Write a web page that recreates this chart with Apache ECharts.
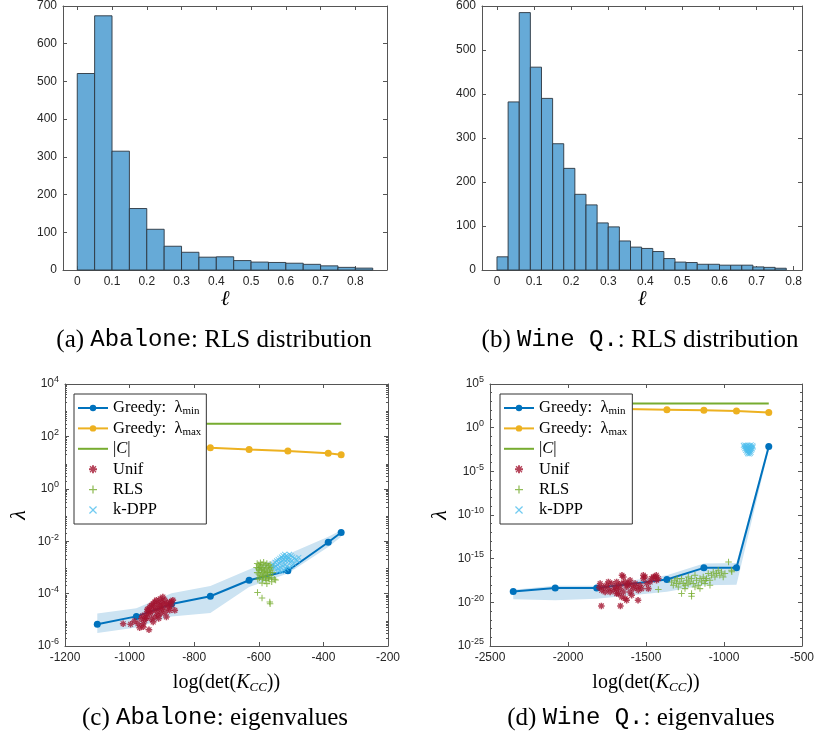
<!DOCTYPE html>
<html><head><meta charset="utf-8">
<script src="https://cdn.jsdelivr.net/npm/echarts@6/dist/echarts.min.js"></script>
<style>html,body{margin:0;padding:0;background:#fff}#c{width:816px;height:736px}</style>
</head><body><div id="c"></div>
<script>
// ===================== DATA =====================
// (a) Abalone: RLS histogram
const binEdgesA = [0,0.05,0.1,0.15,0.2,0.25,0.3,0.35,0.4,0.45,0.5,0.55,0.6,0.65,0.7,0.75,0.8,0.85];
const countsA = [521,674,315,163,108,63,47,34,35,25,21,20,18,15,11,7,5];
// (b) Wine Q.: RLS histogram
const binEdgesB = [0,0.03,0.06,0.09,0.12,0.15,0.18,0.21,0.24,0.27,0.3,0.33,0.36,0.39,0.42,0.45,0.48,0.51,0.54,0.57,0.6,0.63,0.66,0.69,0.72,0.75,0.78];
const countsB = [30,382,585,461,390,287,231,172,148,107,98,66,52,49,42,26,18,17,13,13,11,11,11,7,6,4];
const histTicks = [0,0.1,0.2,0.3,0.4,0.5,0.6,0.7,0.8];

// (c) Abalone eigenvalues  (x = log(det(K_CC)), y = log10(lambda))
const greedyXC = [-1100,-979,-870,-750,-630,-510,-385,-345];
const lamMinC  = [-5.17,-4.87,-4.40,-4.10,-3.49,-3.13,-2.04,-1.67];
const lamMaxC  = [1.85,1.76,1.66,1.57,1.50,1.44,1.36,1.30];
const sizeC_C  = [2.48,2.48,2.48,2.48,2.48,2.48,2.48,2.48];
const bandLowC = [-5.50,-5.29,-4.87,-4.74,-3.75,-3.23,-2.22,-1.83];
const bandHighC= [-4.76,-4.56,-3.99,-3.71,-3.08,-2.50,-1.83,-1.58];
const unifC = [[-1020,-5.15],[-997,-5.17],[-974,-5.15],[-964,-4.96],[-958,-5.15],[-969,-5.30],[-953,-5.02],[-948,-4.76],[-943,-4.64],[-938,-4.51],[-933,-4.45],[-927,-4.38],[-922,-4.32],[-917,-4.25],[-912,-4.38],[-907,-4.45],[-902,-4.32],[-897,-4.13],[-891,-4.25],[-886,-4.38],[-881,-4.45],[-876,-4.32],[-871,-4.45],[-860,-4.64],[-876,-4.64],[-886,-4.89],[-902,-4.76],[-912,-4.83],[-922,-4.89],[-933,-4.96],[-927,-5.08],[-940,-5.38],[-958,-5.27],[-897,-4.51],[-907,-4.57],[-917,-4.57],[-927,-4.64],[-938,-4.76],[-948,-4.89],[-866,-4.25],[-900,-4.60],[-915,-4.70],[-895,-4.40],[-925,-4.50],[-905,-4.20],[-880,-4.55],[-935,-4.70],[-945,-4.60],[-890,-4.70],[-870,-4.30],[-960,-4.85],[-985,-5.05],[-910,-4.95],[-950,-4.95]];
const rlsC = [[-605,-2.85],[-600,-2.90],[-595,-2.82],[-590,-2.88],[-585,-2.80],[-580,-2.92],[-575,-2.85],[-570,-2.95],[-565,-2.90],[-560,-3.00],[-555,-2.95],[-607,-3.00],[-602,-3.05],[-597,-3.00],[-592,-3.10],[-587,-3.05],[-582,-3.10],[-577,-3.00],[-572,-3.15],[-567,-3.05],[-562,-3.10],[-557,-3.20],[-605,-3.20],[-600,-3.25],[-595,-3.30],[-590,-3.20],[-585,-3.35],[-580,-3.25],[-575,-3.30],[-570,-3.40],[-565,-3.30],[-560,-3.40],[-552,-3.45],[-603,-3.45],[-598,-3.40],[-588,-3.45],[-578,-3.50],[-568,-3.45],[-548,-3.48],[-594,-2.95],[-584,-3.15],[-574,-3.20],[-564,-3.20],[-599,-3.10],[-589,-3.35],[-579,-3.40],[-590,-3.60],[-575,-3.62],[-560,-3.55],[-604,-3.96],[-590,-4.17],[-566,-4.32],[-565,-4.39]];
const kdppC = [[-555,-2.90],[-550,-2.80],[-545,-2.75],[-540,-2.70],[-535,-2.65],[-530,-2.60],[-525,-2.55],[-520,-2.50],[-515,-2.55],[-510,-2.60],[-505,-2.50],[-500,-2.55],[-495,-2.60],[-490,-2.65],[-485,-2.70],[-480,-2.75],[-552,-3.00],[-547,-2.95],[-542,-2.90],[-537,-2.85],[-532,-2.80],[-527,-2.75],[-522,-2.70],[-517,-2.75],[-512,-2.70],[-507,-2.75],[-502,-2.80],[-497,-2.75],[-492,-2.85],[-548,-3.10],[-540,-3.05],[-533,-3.00],[-526,-2.95],[-519,-2.90],[-512,-2.95],[-505,-3.00],[-498,-2.95],[-538,-3.15],[-530,-3.15],[-522,-3.10],[-515,-3.05],[-528,-2.65],[-518,-2.60],[-508,-2.65],[-476,-2.62]];

// (d) Wine Q. eigenvalues
const greedyXD = [-2351,-2082,-1816,-1366,-1129,-920,-713];
const lamMinD  = [-18.77,-18.35,-18.35,-17.39,-16.05,-16.05,-2.15];
const lamMaxD  = [2.40,2.30,2.20,2.06,1.98,1.90,1.75];
const sizeC_D  = [2.78,2.78,2.78,2.78,2.78,2.78,2.78];
const bandLowD = [-19.65,-19.75,-19.60,-18.80,-18.05,-18.00,-2.50];
const bandHighD= [-18.55,-18.10,-18.10,-16.90,-15.56,-15.50,-1.90];
const unifD = [[-1794,-17.85],[-1784,-18.62],[-1773,-18.24],[-1762,-18.81],[-1752,-18.05],[-1741,-18.43],[-1730,-18.81],[-1720,-17.85],[-1709,-18.62],[-1698,-18.24],[-1688,-17.66],[-1677,-18.05],[-1666,-18.43],[-1656,-17.85],[-1645,-17.09],[-1634,-17.66],[-1624,-18.24],[-1613,-17.85],[-1602,-17.47],[-1592,-18.05],[-1581,-18.43],[-1570,-17.85],[-1560,-18.24],[-1549,-18.62],[-1538,-18.05],[-1528,-18.43],[-1517,-17.28],[-1506,-17.09],[-1496,-17.85],[-1485,-18.43],[-1474,-17.66],[-1464,-17.28],[-1442,-17.09],[-1432,-17.47],[-1421,-17.28],[-1677,-19.00],[-1656,-19.38],[-1634,-19.57],[-1624,-19.76],[-1592,-19.19],[-1551,-19.76],[-1786,-20.41],[-1664,-20.41],[-1688,-19.00],[-1602,-18.81],[-1645,-18.81],[-1741,-17.66],[-1517,-16.90],[-1453,-17.09],[-1654,-16.90],[-1434,-16.90],[-1800,-18.30],[-1690,-18.50],[-1620,-18.00]];
const rlsD = [[-1421,-18.54],[-1336,-17.66],[-1325,-18.05],[-1315,-17.47],[-1304,-17.85],[-1293,-18.24],[-1283,-17.66],[-1272,-17.28],[-1261,-17.85],[-1250,-18.05],[-1240,-17.47],[-1229,-17.09],[-1218,-17.66],[-1208,-17.28],[-1197,-17.85],[-1186,-16.90],[-1176,-17.47],[-1165,-18.05],[-1154,-17.28],[-1144,-17.66],[-1133,-17.09],[-1122,-17.85],[-1112,-17.28],[-1101,-16.71],[-1090,-17.47],[-1080,-16.90],[-1069,-16.52],[-1058,-17.09],[-1048,-16.71],[-1037,-16.33],[-1027,-16.90],[-1016,-16.52],[-1005,-17.09],[-994,-16.71],[-952,-16.33],[-1272,-19.00],[-1208,-19.00],[-1208,-19.31],[-1250,-18.43],[-1154,-18.43],[-1090,-18.05],[-1186,-18.24],[-971,-15.37],[-950,-16.50],[-1300,-17.30],[-1230,-17.90],[-1120,-17.50]];
const kdppD = [[-876,-2.02],[-866,-1.98],[-857,-2.05],[-846,-2.00],[-836,-2.03],[-826,-1.97],[-815,-2.04],[-872,-2.22],[-861,-2.18],[-851,-2.25],[-842,-2.20],[-831,-2.15],[-821,-2.24],[-812,-2.20],[-867,-2.42],[-857,-2.38],[-848,-2.45],[-838,-2.40],[-828,-2.36],[-818,-2.43],[-861,-2.60],[-852,-2.64],[-843,-2.58],[-833,-2.62],[-823,-2.60],[-855,-2.80],[-845,-2.84],[-836,-2.78],[-826,-2.82],[-848,-2.98],[-839,-3.02],[-831,-2.96]];

const legendNames = ['Greedy: λmin','Greedy: λmax','|C|','Unif','RLS','k-DPP'];
const captions = ['(a) {tt|Abalone}: RLS distribution','(b) {tt|Wine Q.}: RLS distribution','(c) {tt|Abalone}: eigenvalues','(d) {tt|Wine Q.}: eigenvalues'];

// ===================== STYLE =====================
const SANS = "'Liberation Sans', Arial, sans-serif";
const SERIF = "'Liberation Serif', 'DejaVu Serif', serif";
const MONO = "'Liberation Mono', 'DejaVu Sans Mono', monospace";
const AX = '#555', TXT = '#262626';
const C_BLUE = '#0072BD', C_ORANGE = '#EDB120', C_GREEN = '#77AC30', C_RED = '#A2142F', C_CYAN = '#4DBEEE';
const BAR_FILL = '#66AAD7', BAR_EDGE = '#2b3540', BAND = '#CCE3F2';
const ASTERISK = 'path://M3.8,0H6.2V2.6L8.1,0.7L9.3,1.9L7.4,3.8H10V6.2H7.4L9.3,8.1L8.1,9.3L6.2,7.4V10H3.8V7.4L1.9,9.3L0.7,8.1L2.6,6.2H0V3.8H2.6L0.7,1.9L1.9,0.7L3.8,2.6Z';
const PLUS = 'path://M4.2,0H5.8V4.2H10V5.8H5.8V10H4.2V5.8H0V4.2H4.2Z';
const CROSS = 'path://M1.1,0L5,3.9L8.9,0L10,1.1L6.1,5L10,8.9L8.9,10L5,6.1L1.1,10L0,8.9L3.9,5L0,1.1Z';

const grids = [
  {left:63, top:6, width:324, height:264},
  {left:482, top:6, width:320, height:264},
  {left:65, top:384, width:323, height:262},
  {left:490, top:384, width:312, height:262}
].map(g => Object.assign({outerBoundsMode:'none', containLabel:false}, g));

const xAxes = [], yAxes = [];
const plainFmt = v => String(+v.toFixed(6));
function baseAxis(gi, min, max, pos, labels) {
  return {gridIndex:gi, type:'value', min, max, position:pos,
    axisLine:{show:true, onZero:false, lineStyle:{color:AX, width:1}},
    axisTick:{show:true, inside:true, length:4, lineStyle:{color:AX, width:1}},
    axisLabel:{show:labels, color:TXT, fontSize:12, fontFamily:SANS, margin:6, formatter:plainFmt},
    splitLine:{show:false}};
}
function addX(gi, min, max, opt, labels) {
  const a = baseAxis(gi, min, max, labels ? 'bottom' : 'top', labels);
  if (opt.interval) a.interval = opt.interval;
  if (opt.custom) { a.axisTick.customValues = opt.custom; a.axisLabel.customValues = opt.custom; }
  if (labels && opt.name) Object.assign(a, {name:opt.name, nameLocation:'middle', nameGap:opt.nameGap, nameTextStyle:opt.nameStyle});
  xAxes.push(a); return xAxes.length - 1;
}
function addY(gi, min, max, opt, labels) {
  const a = baseAxis(gi, min, max, labels ? 'left' : 'right', labels);
  a.interval = opt.interval;
  if (opt.formatter) { a.axisLabel.formatter = opt.formatter; a.axisLabel.rich = opt.rich; }
  if (labels && opt.name) Object.assign(a, {name:opt.name, nameLocation:'middle', nameGap:opt.nameGap, nameTextStyle:opt.nameStyle});
  yAxes.push(a); return yAxes.length - 1;
}
function addMinorY(gi, min, max, vals, pos) {
  yAxes.push({gridIndex:gi, type:'value', min, max, position:pos,
    axisLine:{show:false}, axisLabel:{show:false}, splitLine:{show:false},
    axisTick:{show:true, inside:true, length:2, customValues:vals, lineStyle:{color:AX, width:1}}});
}

const ellName = {fontFamily:SERIF, fontStyle:'italic', fontSize:21, color:'#000'};
const lamName = {fontFamily:SERIF, fontStyle:'italic', fontSize:22, color:'#000'};
const detName = {fontFamily:SERIF, fontSize:20, color:'#000',
  rich:{i:{fontFamily:SERIF, fontStyle:'italic', fontSize:20, color:'#000'},
        sub:{fontFamily:SERIF, fontStyle:'italic', fontSize:13, color:'#000', padding:[9,0,0,0]}}};
const powFmt = v => '{b|10}{s|' + v + '}';
const powRich = {b:{fontSize:12, fontFamily:SANS, color:TXT}, s:{fontSize:9, fontFamily:SANS, color:TXT, padding:[0,0,8,0]}};

// grid 0 (a)
const xa = addX(0, -0.041, 0.891, {custom:histTicks, name:'ℓ', nameGap:19, nameStyle:ellName}, true);
addX(0, -0.041, 0.891, {custom:histTicks}, false);
const ya = addY(0, 0, 700, {interval:100}, true);
addY(0, 0, 700, {interval:100}, false);
// grid 1 (b)
const xb = addX(1, -0.0404, 0.8224, {custom:histTicks, name:'ℓ', nameGap:19, nameStyle:ellName}, true);
addX(1, -0.0404, 0.8224, {custom:histTicks}, false);
const yb = addY(1, 0, 600, {interval:100}, true);
addY(1, 0, 600, {interval:100}, false);
// grid 2 (c)
const xc = addX(2, -1200, -200, {interval:200, name:'log(det({i|K}{sub|CC}))', nameGap:26, nameStyle:detName}, true);
addX(2, -1200, -200, {interval:200}, false);
const yc = addY(2, -6, 4, {interval:2, formatter:powFmt, rich:powRich, name:'λ', nameGap:35, nameStyle:lamName}, true);
addY(2, -6, 4, {interval:2}, false);
const minorC = [];
for (let n = -6; n < 4; n++) for (let k = 2; k <= 9; k++) minorC.push(n + Math.log10(k));
addMinorY(2, -6, 4, minorC, 'left'); addMinorY(2, -6, 4, minorC, 'right');
// grid 3 (d)
const xd = addX(3, -2500, -500, {interval:500, name:'log(det({i|K}{sub|CC}))', nameGap:26, nameStyle:detName}, true);
addX(3, -2500, -500, {interval:500}, false);
const yd = addY(3, -25, 5, {interval:5, formatter:powFmt, rich:powRich, name:'λ', nameGap:39, nameStyle:lamName}, true);
addY(3, -25, 5, {interval:5}, false);
const minorD = [];
for (let n = -25; n <= 5; n++) if (n % 5 !== 0) minorD.push(n);
addMinorY(3, -25, 5, minorD, 'left'); addMinorY(3, -25, 5, minorD, 'right');

function histSeries(xi, yi, edges, counts) {
  return {type:'custom', xAxisIndex:xi, yAxisIndex:yi, silent:true,
    data: counts.map((c, i) => [edges[i], edges[i+1], c]),
    encode:{x:[0,1], y:2},
    renderItem(params, api) {
      const p0 = api.coord([api.value(0), api.value(2)]);
      const p1 = api.coord([api.value(1), 0]);
      return {type:'rect', shape:{x:p0[0], y:p0[1], width:p1[0]-p0[0], height:p1[1]-p0[1]},
        style:{fill:BAR_FILL, stroke:BAR_EDGE, lineWidth:0.9}};
    }};
}
const zip = (xs, ys) => xs.map((x, i) => [x, ys[i]]);
function eigenSeries(xi, yi, X, lmin, lmax, capC, lo, hi, unif, rls, kdpp) {
  return [
    {type:'custom', xAxisIndex:xi, yAxisIndex:yi, silent:true, z:1,
      data: X.map((x, i) => [x, lo[i], hi[i]]), encode:{x:0, y:[1,2]},
      renderItem(params, api) {
        if (params.dataIndex !== 0) return null;
        const pts = [];
        for (let i = 0; i < X.length; i++) pts.push(api.coord([X[i], hi[i]]));
        for (let i = X.length - 1; i >= 0; i--) pts.push(api.coord([X[i], lo[i]]));
        return {type:'polygon', shape:{points:pts}, style:{fill:BAND}};
      }},
    {name:legendNames[0], type:'line', xAxisIndex:xi, yAxisIndex:yi, data:zip(X, lmin), symbol:'circle', symbolSize:7,
      lineStyle:{color:C_BLUE, width:2}, itemStyle:{color:C_BLUE}, z:3},
    {name:legendNames[1], type:'line', xAxisIndex:xi, yAxisIndex:yi, data:zip(X, lmax), symbol:'circle', symbolSize:7,
      lineStyle:{color:C_ORANGE, width:2}, itemStyle:{color:C_ORANGE}, z:3},
    {name:legendNames[2], type:'line', xAxisIndex:xi, yAxisIndex:yi, data:zip(X, capC), symbol:'none', showSymbol:false,
      lineStyle:{color:C_GREEN, width:2}, itemStyle:{color:C_GREEN}, z:3},
    {name:legendNames[3], type:'scatter', xAxisIndex:xi, yAxisIndex:yi, data:unif, symbol:ASTERISK, symbolSize:6.5,
      itemStyle:{color:C_RED}, z:4},
    {name:legendNames[4], type:'scatter', xAxisIndex:xi, yAxisIndex:yi, data:rls, symbol:PLUS, symbolSize:6.5,
      itemStyle:{color:C_GREEN}, z:4},
    {name:legendNames[5], type:'scatter', xAxisIndex:xi, yAxisIndex:yi, data:kdpp, symbol:CROSS, symbolSize:5.5,
      itemStyle:{color:C_CYAN}, z:4}
  ];
}

const series = [
  histSeries(xa, ya, binEdgesA, countsA),
  histSeries(xb, yb, binEdgesB, countsB),
  ...eigenSeries(xc, yc, greedyXC, lamMinC, lamMaxC, sizeC_C, bandLowC, bandHighC, unifC, rlsC, kdppC),
  ...eigenSeries(xd, yd, greedyXD, lamMinD, lamMaxD, sizeC_D, bandLowD, bandHighD, unifD, rlsD, kdppD)
];

const legendLabels = {'Greedy: λmin':'Greedy:  λ{sub|min}', 'Greedy: λmax':'Greedy:  λ{sub|max}', '|C|':'|{it|C}|'};
function makeLegend(left, top) {
  return {left, top, orient:'vertical', selectedMode:false, backgroundColor:'#fff',
    borderColor:'#333', borderWidth:1, borderRadius:0, padding:[4,5,4,3],
    itemWidth:30, itemHeight:8, itemGap:0.4, z:10,
    data:[legendNames[0], legendNames[1], {name:legendNames[2], icon:'path://M0,0H30V2H0Z'}, legendNames[3], legendNames[4], legendNames[5]],
    formatter: n => legendLabels[n] || n,
    textStyle:{fontFamily:SERIF, fontSize:16.5, color:'#000', lineHeight:20,
      rich:{sub:{fontFamily:SERIF, fontSize:11, color:'#000', padding:[7,0,0,0]},
            it:{fontFamily:SERIF, fontStyle:'italic', fontSize:16.5, color:'#000'}}}};
}

const capRich = {tt:{fontFamily:MONO, fontSize:24, fill:'#000'}};
const capPos = [[214,340],[640,340],[215,718],[641,718]];
const graphic = captions.map((t, i) => ({type:'text', x:capPos[i][0], y:capPos[i][1], silent:true,
  style:{text:t, fontFamily:SERIF, fontSize:25, fill:'#000', align:'center', verticalAlign:'middle', rich:capRich}}));

const chart = echarts.init(document.getElementById('c'), null, {renderer:'canvas'});
chart.setOption({
  animation:false,
  backgroundColor:'#fff',
  grid: grids,
  xAxis: xAxes,
  yAxis: yAxes,
  legend: [makeLegend(74, 394), makeLegend(500, 394)],
  series,
  graphic
});
</script>
</body></html>
